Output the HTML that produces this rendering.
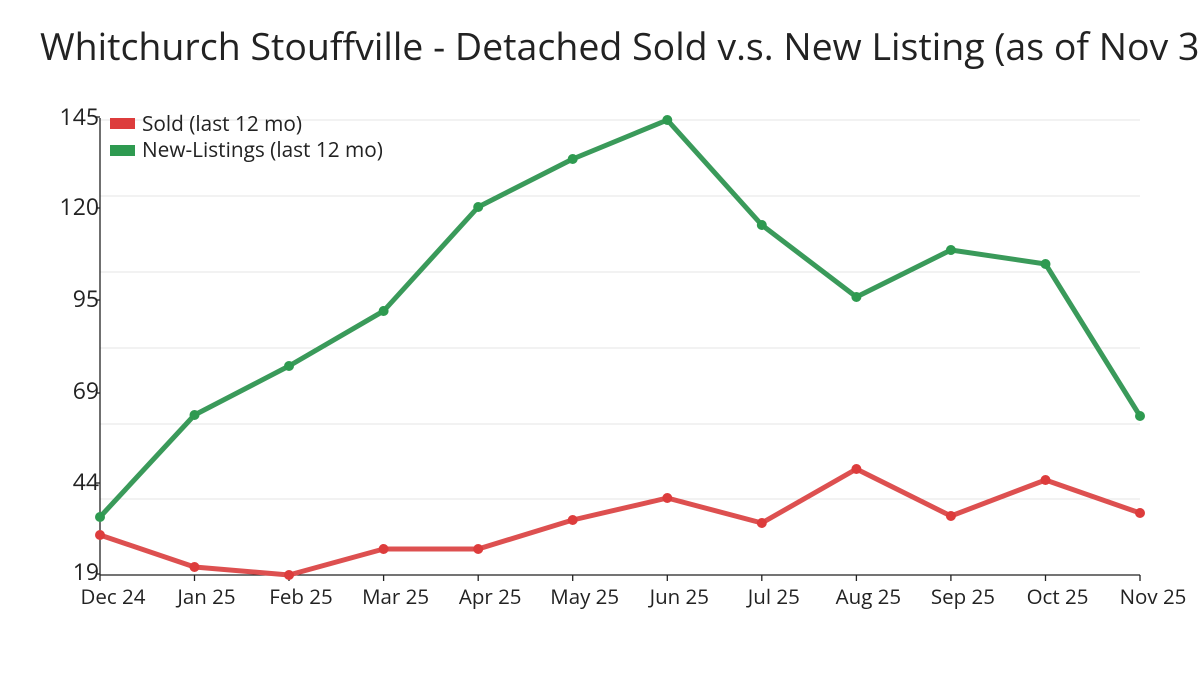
<!DOCTYPE html>
<html><head><meta charset="utf-8"><style>body{margin:0;background:#fff}</style></head><body>
<svg width="1200" height="675" xmlns="http://www.w3.org/2000/svg" font-family="'Open Sans','DejaVu Sans','Liberation Sans',sans-serif">
<rect width="1200" height="675" fill="#fff"/>
<text x="40" y="60" font-size="37.5" fill="#222">Whitchurch Stouffville - Detached Sold v.s. New Listing (as of Nov 30)</text>
<g stroke="#e4e4e4" stroke-width="1">
<line x1="100" x2="1140" y1="120" y2="120"/><line x1="100" x2="1140" y1="196" y2="196"/><line x1="100" x2="1140" y1="272" y2="272"/><line x1="100" x2="1140" y1="348" y2="348"/><line x1="100" x2="1140" y1="424" y2="424"/><line x1="100" x2="1140" y1="499" y2="499"/>
</g>
<g stroke="#222" stroke-width="1.3">
<line x1="100" x2="100" y1="118" y2="575"/><line x1="100" x2="1140" y1="575" y2="575"/>
<line x1="96" x2="100" y1="117" y2="117"/><line x1="96" x2="100" y1="208" y2="208"/><line x1="96" x2="100" y1="300" y2="300"/><line x1="96" x2="100" y1="393" y2="393"/><line x1="96" x2="100" y1="483" y2="483"/><line x1="96" x2="100" y1="574" y2="574"/>
<line x1="100" x2="100" y1="575" y2="581"/><line x1="194.5" x2="194.5" y1="575" y2="581"/><line x1="289" x2="289" y1="575" y2="581"/><line x1="383.6" x2="383.6" y1="575" y2="581"/><line x1="478.2" x2="478.2" y1="575" y2="581"/><line x1="572.7" x2="572.7" y1="575" y2="581"/><line x1="667.3" x2="667.3" y1="575" y2="581"/><line x1="761.8" x2="761.8" y1="575" y2="581"/><line x1="856.4" x2="856.4" y1="575" y2="581"/><line x1="950.9" x2="950.9" y1="575" y2="581"/><line x1="1045.5" x2="1045.5" y1="575" y2="581"/><line x1="1140" x2="1140" y1="575" y2="581"/>
</g>
<g font-size="23" fill="#222" text-anchor="end">
<text x="99" y="125">145</text><text x="99" y="215">120</text><text x="99" y="307">95</text><text x="99" y="399">69</text><text x="99" y="490">44</text><text x="99" y="580">19</text>
</g>
<g font-size="20.5" fill="#222" text-anchor="middle">
<text x="113" y="604">Dec 24</text><text x="206.5" y="604">Jan 25</text><text x="301" y="604">Feb 25</text><text x="395.6" y="604">Mar 25</text><text x="490.2" y="604">Apr 25</text><text x="584.7" y="604">May 25</text><text x="679.3" y="604">Jun 25</text><text x="773.8" y="604">Jul 25</text><text x="868.4" y="604">Aug 25</text><text x="962.9" y="604">Sep 25</text><text x="1057.5" y="604">Oct 25</text><text x="1153" y="604">Nov 25</text>
</g>
<polyline fill="none" stroke="#3a9a5a" stroke-width="5" stroke-linejoin="round" points="100,517 194.5,415 289,366 383.6,311 478.2,207 572.7,159 667.3,120 761.8,225 856.4,297 950.9,250 1045.5,264 1140,416"/>
<g fill="#2e9a50"><circle cx="100" cy="517" r="5"/><circle cx="194.5" cy="415" r="5"/><circle cx="289" cy="366" r="5"/><circle cx="383.6" cy="311" r="5"/><circle cx="478.2" cy="207" r="5"/><circle cx="572.7" cy="159" r="5"/><circle cx="667.3" cy="120" r="5"/><circle cx="761.8" cy="225" r="5"/><circle cx="856.4" cy="297" r="5"/><circle cx="950.9" cy="250" r="5"/><circle cx="1045.5" cy="264" r="5"/><circle cx="1140" cy="416" r="5"/></g>
<polyline fill="none" stroke="#dd5050" stroke-width="5" stroke-linejoin="round" points="100,535 194.5,567 289,575 383.6,549 478.2,549 572.7,520 667.3,498 761.8,523 856.4,469 950.9,516 1045.5,480 1140,513"/>
<g fill="#dd3c3c"><circle cx="100" cy="535" r="5"/><circle cx="194.5" cy="567" r="5"/><circle cx="289" cy="575" r="5"/><circle cx="383.6" cy="549" r="5"/><circle cx="478.2" cy="549" r="5"/><circle cx="572.7" cy="520" r="5"/><circle cx="667.3" cy="498" r="5"/><circle cx="761.8" cy="523" r="5"/><circle cx="856.4" cy="469" r="5"/><circle cx="950.9" cy="516" r="5"/><circle cx="1045.5" cy="480" r="5"/><circle cx="1140" cy="513" r="5"/></g>
<rect x="110" y="118" width="25" height="11" fill="#dd3c3c"/>
<rect x="110" y="145" width="25" height="11" fill="#2e9a50"/>
<g font-size="20.8" fill="#222"><text x="142" y="131">Sold (last 12 mo)</text><text x="142" y="157">New-Listings (last 12 mo)</text></g>
</svg>
</body></html>
